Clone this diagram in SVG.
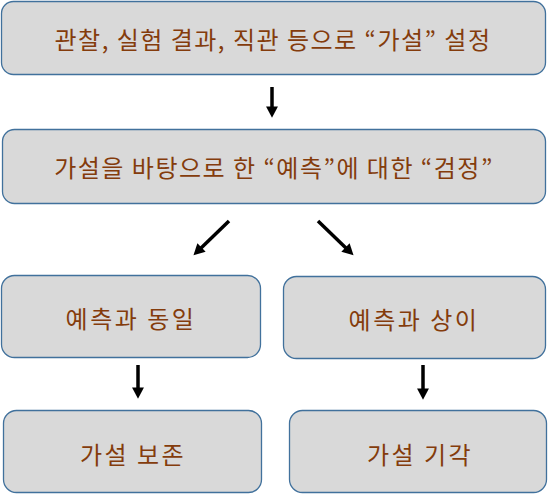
<svg xmlns="http://www.w3.org/2000/svg" width="548" height="494" viewBox="0 0 548 494">
<style>
.box{fill:#D9D9D9;stroke:#41719C;stroke-width:1.3}
.t{font-family:"Noto Sans CJK KR","Noto Sans",sans-serif;font-size:24px;letter-spacing:1.5px;fill:#843C0C;text-anchor:middle;dominant-baseline:central}
.a{stroke:#000;stroke-width:3.5;fill:none;marker-end:url(#ah)}
</style>
<defs>
<marker id="ah" markerWidth="4" markerHeight="4" refX="1" refY="2" orient="auto" markerUnits="strokeWidth" viewBox="0 0 3.2 4">
<path d="M0,0.3 L3.2,2 L0,3.7 Z" fill="#000"/>
</marker>
</defs>
<rect width="548" height="494" fill="#fff"/>
<g id="n1"><rect class="box" x="1.5" y="1.5" width="544" height="73" rx="12"/><text class="t" x="273" y="38">관찰, 실험 결과, 직관 등으로 “가설” 설정</text></g>
<g id="n2"><rect class="box" x="2.5" y="129.5" width="543" height="74" rx="12"/><text class="t" x="274" y="166">가설을 바탕으로 한 “예측”에 대한 “검정”</text></g>
<g id="n3"><rect class="box" x="1.5" y="275.5" width="259" height="82" rx="13"/><text class="t" x="131" y="317" style="letter-spacing:2.5px">예측과 동일</text></g>
<g id="n4"><rect class="box" x="283.5" y="276.5" width="262" height="82" rx="13"/><text class="t" x="414" y="318" style="letter-spacing:2.5px">예측과 상이</text></g>
<g id="n5"><rect class="box" x="3.5" y="410.5" width="258" height="82" rx="13"/><text class="t" x="133" y="453" style="letter-spacing:2.5px">가설 보존</text></g>
<g id="n6"><rect class="box" x="289.5" y="410.5" width="257" height="82" rx="13"/><text class="t" x="420" y="453" style="letter-spacing:2.5px">가설 기각</text></g>
<g id="connectors">
<line class="a" x1="272" y1="87" x2="272" y2="110"/>
<line class="a" x1="229" y1="221" x2="199" y2="250"/>
<line class="a" x1="318" y1="221" x2="348" y2="250"/>
<line class="a" x1="138" y1="365" x2="138" y2="391"/>
<line class="a" x1="423" y1="365" x2="423" y2="392"/>
</g>
</svg>
